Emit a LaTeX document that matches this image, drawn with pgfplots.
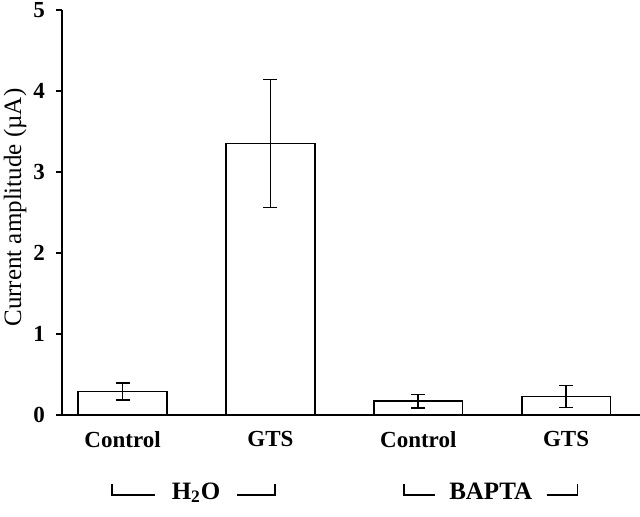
\documentclass[border=0pt]{standalone}
\usepackage{fontspec}
\setmainfont{Liberation Serif}
\usepackage{pgfplots}
\pgfplotsset{compat=1.18}

\pgfplotstableread{
x y e
0 0.29 0.105
1 3.35 0.79
2 0.17 0.085
3 0.23 0.135
}\amplitudes

\begin{document}
\begin{tikzpicture}
\useasboundingbox (-31pt,-50.5pt) rectangle (289pt,207.5pt);
\begin{axis}[
  at={(0,0)}, anchor=south west,
  scale only axis, width=289pt, height=202.5pt,
  axis x line=bottom, axis y line=left,
  axis line style={-, line width=0.8pt},
  ymin=0, ymax=5, ytick={0,1,2,3,4,5},
  xmin=-0.41, xmax=3.5,
  xtick={0,1,2,3}, xticklabels={Control,GTS,Control,GTS},
  x tick style={draw=none},
  y tick style={line width=0.8pt, black},
  tick align=outside, major tick length=3pt,
  xticklabel style={font=\fontsize{11.5}{13}\selectfont\bfseries, yshift=-1.5pt},
  yticklabel style={font=\fontsize{11.5}{13}\selectfont\bfseries, xshift=-2pt},
  /pgf/number format/assume math mode=true,
  ylabel={Current amplitude (µA)},
  ylabel style={font=\fontsize{12.5}{14}\selectfont, at={(axis description cs:-0.0813,0.512)}, anchor=center},
  clip=false,
]
\addplot[ybar, bar width=0.6, fill=white, draw=black, line width=0.8pt,
  error bars/.cd, y dir=both, y explicit,
  error bar style={line width=0.8pt},
  error mark options={rotate=90, mark size=3.5pt, line width=0.8pt}]
  table[x=x, y=y, y error=e] {\amplitudes};

\draw[line width=0.8pt] (axis cs:-0.071,-0.849) -- (axis cs:-0.071,-0.984) -- (axis cs:0.220,-0.984);
\draw[line width=0.8pt] (axis cs:0.774,-0.984) -- (axis cs:1.03,-0.984) -- (axis cs:1.03,-0.849);
\node[anchor=base, font=\fontsize{12.5}{14}\selectfont\bfseries] at (axis cs:0.497,-1.04) {H\textsubscript{2}O};
\draw[line width=0.8pt] (axis cs:1.902,-0.849) -- (axis cs:1.902,-0.984) -- (axis cs:2.111,-0.984);
\draw[line width=0.8pt] (axis cs:2.868,-0.984) -- (axis cs:3.078,-0.984) -- (axis cs:3.078,-0.849);
\node[anchor=base, font=\fontsize{12.5}{14}\selectfont\bfseries] at (axis cs:2.49,-1.04) {BAPTA};
\end{axis}
\end{tikzpicture}
\end{document}
